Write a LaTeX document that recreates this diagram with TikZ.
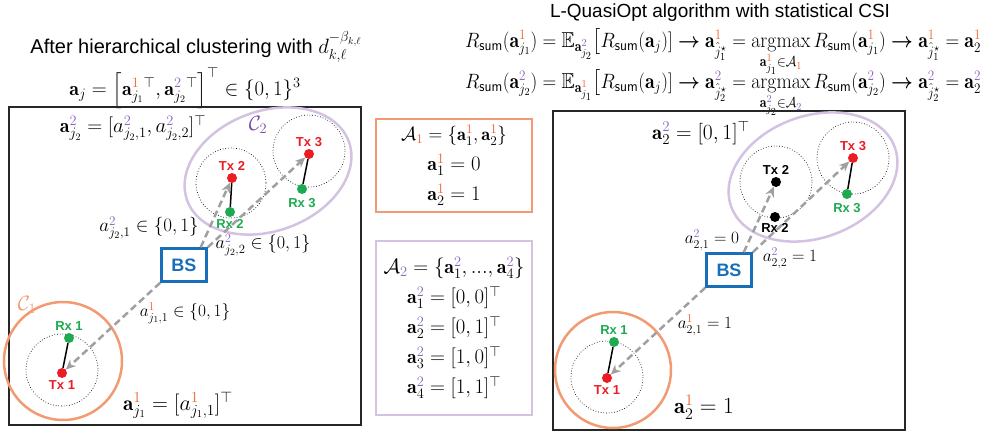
\documentclass[tikz,border=0pt]{standalone}
\usepackage{amsmath,amssymb}
\usepackage{graphicx}
\usepackage{fontspec}
\newfontfamily\arial{Liberation Sans}
\usetikzlibrary{arrows.meta,positioning,calc}
\definecolor{cluone}{RGB}{242,155,115}
\definecolor{clutwo}{RGB}{212,194,226}
\definecolor{idxone}{RGB}{240,100,40}
\definecolor{idxtwo}{RGB}{140,100,190}
\definecolor{cname}{RGB}{120,75,165}
\definecolor{txred}{RGB}{235,28,36}
\definecolor{rxgreen}{RGB}{30,170,80}
\definecolor{bsblue}{RGB}{25,110,185}
\definecolor{beamgray}{RGB}{160,160,160}
\newcommand{\oneC}{\textcolor{idxone}{1}}
\newcommand{\twoC}{\textcolor{idxtwo}{2}}
\newcommand{\Rs}{R_{\mathsf{sum}}}

\begin{document}
\begin{tikzpicture}[x=1pt,y=-1pt,
  frame/.style={draw=black!85,line width=2pt},
  clu1/.style={draw=cluone,line width=2.5pt},
  clu2/.style={draw=clutwo,line width=2.5pt},
  zone/.style={draw,dotted,line width=0.7pt},
  dev/.style={circle,inner sep=0pt,minimum size=10pt},
  tx/.style={dev,fill=txred},
  rx/.style={dev,fill=rxgreen},
  idle/.style={dev,fill=black},
  lbl/.style={font=\arial\bfseries\fontsize{13}{13}\selectfont,inner sep=1pt},
  bs/.style={draw=bsblue,line width=2.5pt,minimum width=45pt,minimum height=33pt,text=bsblue,font=\arial\bfseries\fontsize{18}{18}\selectfont},
  link/.style={black,line width=1.5pt},
  beam/.style={draw=beamgray,line width=2.5pt,dash pattern=on 7pt off 4pt,-{Stealth[length=10pt,width=9pt]}},
  eq/.style={font=\fontsize{18}{20}\selectfont,inner sep=0pt},
  bigeq/.style={font=\fontsize{20}{22}\selectfont,inner sep=0pt},
  title/.style={font=\arial\fontsize{19}{22}\selectfont,inner sep=0pt},
  setbox/.style={align=center,line width=2.5pt,minimum width=156pt,font=\fontsize{20}{30}\selectfont}
]
\useasboundingbox (0,0) rectangle (989,434);

% headings
\node[title,font=\arial\fontsize{20}{22}\selectfont] (ttlleft) at (196,47) {After hierarchical clustering with $d_{k,\ell}^{-\beta_{k,\ell}}$};
\node[bigeq] (ajvec) at (185,88) {$\mathbf{a}_j=\Big[\mathbf{a}^{\oneC}_{j_1}{}^{\top},\mathbf{a}^{\twoC}_{j_2}{}^{\top}\Big]^{\top}\in\{0,1\}^3$};
\node[title] (ttlright) at (720,13) {L-QuasiOpt algorithm with statistical CSI};
\begin{scope}
\clip (0,0) rectangle (989,434);
\node[eq,anchor=base west] (eqone) at (465,47) {\scalebox{1.1}[1.2]{$\Rs(\mathbf{a}^{\oneC}_{j_1})=\mathbb{E}_{\mathbf{a}^{\twoC}_{j_2}}\big[\Rs(\mathbf{a}_j)]\boldsymbol{\rightarrow}\mathbf{a}^{\oneC}_{\hat{j}_1^\star}=\mathop{\mathrm{argmax}}\limits_{\mathbf{a}^{\oneC}_{j_1}\in\mathcal{A}_{\oneC}}\Rs(\mathbf{a}^{\oneC}_{j_1})\boldsymbol{\rightarrow}\mathbf{a}^{\oneC}_{\hat{j}_1^\star}=\mathbf{a}^{\oneC}_2$}};
\node[eq,anchor=base west] (eqtwo) at (465,88) {\scalebox{1.1}[1.2]{$\Rs(\mathbf{a}^{\twoC}_{j_2})=\mathbb{E}_{\mathbf{a}^{\oneC}_{j_1}}\big[\Rs(\mathbf{a}_j)]\boldsymbol{\rightarrow}\mathbf{a}^{\twoC}_{\hat{j}_2^\star}=\mathop{\mathrm{argmax}}\limits_{\mathbf{a}^{\twoC}_{j_2}\in\mathcal{A}_{\twoC}}\Rs(\mathbf{a}^{\twoC}_{j_2})\boldsymbol{\rightarrow}\mathbf{a}^{\twoC}_{\hat{j}_2^\star}=\mathbf{a}^{\twoC}_2$}};
\end{scope}

% left panel: clustering
\draw[frame] (9,107) rectangle (361,425);
\draw[clu2] (268,171) ellipse [x radius=86,y radius=60,rotate=20];
\draw[clu1] (63,361) circle (59);
\draw[zone] (62,370) circle (36);
\draw[zone] (231,183) circle (35);
\draw[zone] (309,151) circle (36);
\node[text=cname,font=\fontsize{22}{22}\selectfont] (cltwo) at (258,125) {$\mathcal{C}_2$};
\node[text=cluone,font=\fontsize{22}{22}\selectfont] (clone) at (27,305) {$\mathcal{C}_1$};

\node[tx] (ltxa) at (62,373) {};
\node[rx] (lrxa) at (69,338) {};
\node[tx] (ltxb) at (232,178) {};
\node[rx] (lrxb) at (230,212) {};
\node[tx] (ltxc) at (309,154) {};
\node[rx] (lrxc) at (302,189) {};
\node[lbl,text=txred,below=1pt of ltxa] (ltxalbl) {Tx 1};
\node[lbl,text=rxgreen,above=1pt of lrxa] (lrxalbl) {Rx 1};
\node[lbl,text=txred,above=1pt of ltxb] (ltxblbl) {Tx 2};
\node[lbl,text=rxgreen,below=1pt of lrxb] (lrxblbl) {Rx 2};
\node[lbl,text=txred,above=1pt of ltxc] (ltxclbl) {Tx 3};
\node[lbl,text=rxgreen,below=3pt of lrxc] (lrxclbl) {Rx 3};
\draw[link] (ltxa) -- (lrxa);
\draw[link] (ltxb) -- (lrxb);
\draw[link] (ltxc) -- (lrxc);

\node[bs] (lbs) at (184,265) {BS};
\draw[beam] ([xshift=-7pt]lbs.north east) -- (ltxb);
\draw[beam] (lbs.north east) -- (ltxc);
\draw[beam] (lbs.south west) -- (ltxa);

\node[bigeq] (lvectwo) at (133,128) {$\mathbf{a}^{\twoC}_{j_2}=[a^{\twoC}_{j_2,1},a^{\twoC}_{j_2,2}]^{\top}$};
\node[eq] (lbitb) at (149,228) {\scalebox{1.1}{$a^{\twoC}_{j_2,1}\in\{0,1\}$}};
\node[eq] (lbitc) at (263,245) {\scalebox{1.05}{$a^{\twoC}_{j_2,2}\in\{0,1\}$}};
\node[eq] (lbita) at (185,313) {$a^{\oneC}_{j_1,1}\in\{0,1\}$};
\node[bigeq] (lvecone) at (178,405) {\scalebox{1.06}{$\mathbf{a}^{\oneC}_{j_1}=[a^{\oneC}_{j_1,1}]^{\top}$}};

% action sets
\node[setbox,draw=cluone,minimum height=93pt] (setone) at (454,165.5) {\scalebox{0.92}{$\mathcal{A}_{\oneC}=\{\mathbf{a}^{\oneC}_1,\mathbf{a}^{\oneC}_2\}$}\\ $\mathbf{a}^{\oneC}_1=0$\\ $\mathbf{a}^{\oneC}_2=1$};
\node[setbox,draw=clutwo,minimum height=174pt] (settwo) at (454,328) {$\mathcal{A}_{\twoC}=\{\mathbf{a}^{\twoC}_1,...,\mathbf{a}^{\twoC}_4\}$\\ $\mathbf{a}^{\twoC}_1=[0,0]^{\top}$\\ $\mathbf{a}^{\twoC}_2=[0,1]^{\top}$\\ $\mathbf{a}^{\twoC}_3=[1,0]^{\top}$\\ $\mathbf{a}^{\twoC}_4=[1,1]^{\top}$};

% right panel: selected actions
\draw[frame] (553,111) rectangle (905,430);
\draw[clu2] (813,177) ellipse [x radius=87,y radius=61,rotate=20];
\draw[clu1] (613,370) circle (58);
\draw[zone] (607,377) circle (36);
\draw[zone] (776,182) circle (36);
\draw[zone] (853,158) circle (36);

\node[tx] (rtxa) at (607,378) {};
\node[rx] (rrxa) at (614,342) {};
\node[idle] (rtxb) at (776,182) {};
\node[idle] (rrxb) at (775,217) {};
\node[tx] (rtxc) at (853,158) {};
\node[rx] (rrxc) at (847,194) {};
\node[lbl,text=txred,below=1pt of rtxa] (rtxalbl) {Tx 1};
\node[lbl,text=rxgreen,above=1pt of rrxa] (rrxalbl) {Rx 1};
\node[lbl,above=1pt of rtxb] (rtxblbl) {Tx 2};
\node[lbl,below=0pt of rrxb] (rrxblbl) {Rx 2};
\node[lbl,text=txred,above=1pt of rtxc] (rtxclbl) {Tx 3};
\node[lbl,text=rxgreen,below=3pt of rrxc] (rrxclbl) {Rx 3};
\draw[link] (rtxa) -- (rrxa);
\draw[link] (rtxc) -- (rrxc);

\node[bs] (rbs) at (729,270) {BS};
\draw[beam] ([xshift=-9pt]rbs.north east) -- (rtxb);
\draw[beam] (rbs.north east) -- (rtxc);
\draw[beam] (rbs.south west) -- (rtxa);

\node[bigeq] (rvectwo) at (701,133) {\scalebox{1.04}{$\mathbf{a}^{\twoC}_2=[0,1]^{\top}$}};
\node[eq] (rbitb) at (712,240) {$a^{\twoC}_{2,1}=0$};
\node[eq] (rbitc) at (790,258) {$a^{\twoC}_{2,2}=1$};
\node[eq] (rbita) at (705,325) {$a^{\oneC}_{2,1}=1$};
\node[bigeq] (rvecone) at (704,407) {\scalebox{1.12}{$\mathbf{a}^{\oneC}_2=1$}};
\end{tikzpicture}
\end{document}
